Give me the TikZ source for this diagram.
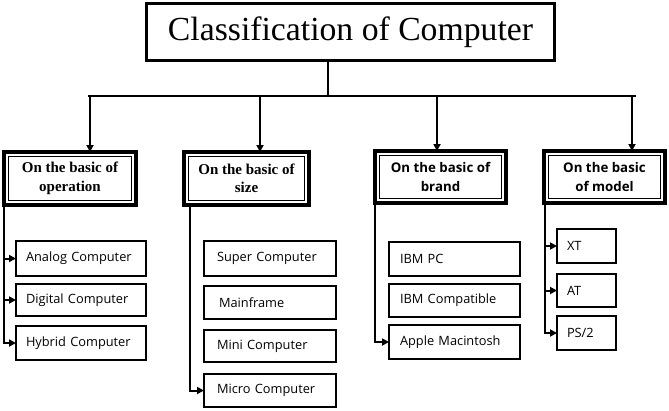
\documentclass[tikz,border=0pt]{standalone}
\usepackage{fontspec}
\usetikzlibrary{arrows.meta}
\newfontfamily\itemfont{Open Sans}
\newfontfamily\catserif{Liberation Serif}
\newfontfamily\catsans{Open Sans}
\newfontfamily\titlefont{Liberation Serif}
\begin{document}
\begin{tikzpicture}[x=1pt,y=-1pt,
  itembox/.style={draw, line width=2.8pt, outer sep=0pt, inner xsep=10pt, inner ysep=0pt, align=left,
    font=\itemfont\fontsize{12.8}{15}\selectfont},
  catbox/.style={draw, line width=4pt, outer sep=0pt, inner sep=0pt, align=center},
  catinner/.style={line width=0.8pt},
  conn/.style={line width=2pt},
  arr/.style={line width=2pt, -{Triangle[length=7pt,width=7pt]}},
]
\useasboundingbox (0,0) rectangle (669,410);

% title
\node[draw, line width=3pt, minimum width=408pt, minimum height=57pt, outer sep=0pt, inner sep=0pt]
  (title) at (350.5,32) {\resizebox{365pt}{!}{\titlefont Classification of Computer}};

% categories
\node[catbox, minimum width=132pt, minimum height=53pt, font=\catserif\bfseries\fontsize{15}{18.5}\selectfont]
  (c1) at (70,178.5) {On the basic of\\operation};
\node[catbox, minimum width=125pt, minimum height=53pt, font=\catserif\bfseries\fontsize{15}{18.5}\selectfont]
  (c2) at (246.5,178.5) {On the basic of\\size};
\node[catbox, minimum width=131pt, minimum height=52pt, font=\catsans\bfseries\fontsize{13.3}{19}\selectfont]
  (c3) at (440.5,177) {On the basic of\\brand};
\node[catbox, minimum width=121pt, minimum height=52pt, font=\catsans\bfseries\fontsize{13.3}{19}\selectfont]
  (c4) at (604.5,177) {On the basic\\of model};
\foreach \c in {c1,c2,c3,c4}{
  \draw[catinner] ([shift={(4.5,4.5)}]\c.north west) rectangle ([shift={(-4.5,-4.5)}]\c.south east);
}

% items column 1
\node[itembox, text width=110pt, minimum height=35pt] (ana) at (81,258.5) {Analog Computer};
\node[itembox, text width=110pt, minimum height=32pt] (dig) at (81,300) {Digital Computer};
\node[itembox, text width=110pt, minimum height=34pt] (hyb) at (81,343) {Hybrid Computer};
% column 2
\node[itembox, inner xsep=13pt, text width=106pt, minimum height=35pt] (sup) at (270,258.5) {Super Computer};
\node[itembox, inner xsep=13pt, text width=106pt, minimum height=33pt] (mai) at (270,302.5) {\hspace{2pt}Mainframe};
\node[itembox, inner xsep=13pt, text width=106pt, minimum height=32pt] (mini) at (270,346) {Mini Computer};
\node[itembox, inner xsep=13pt, text width=106pt, minimum height=33pt] (mic) at (270,390.5) {Micro Computer};
% column 3
\node[itembox, inner xsep=11pt, text width=109pt, minimum height=34pt] (ibm) at (454.5,259) {IBM PC};
\node[itembox, inner xsep=11pt, text width=109pt, minimum height=33pt] (com) at (454.5,300.5) {IBM Compatible};
\node[itembox, inner xsep=11pt, text width=109pt, minimum height=34pt] (app) at (454.5,342) {Apple Macintosh};
% column 4
\node[itembox, text width=39pt, minimum height=34pt] (xt) at (586.5,246) {XT};
\node[itembox, text width=39pt, minimum height=33pt] (nat) at (586.5,290.5) {AT};
\node[itembox, text width=39pt, minimum height=34pt] (ps) at (586.5,333) {PS/2};

% top connectors
\coordinate (hs) at (328,96);
\coordinate (h1) at (90,96);
\coordinate (h2) at (260,96);
\coordinate (h3) at (437,96);
\coordinate (h4) at (632,96);
\coordinate (hl) at (88,96);
\coordinate (hr) at (636,96);
\draw[conn] (title.south -| hs) -- (hs);
\draw[conn] (hl) -- (hr);
\draw[arr] (h1) -- (h1 |- c1.north);
\draw[arr] (h2) -- (h2 |- c2.north);
\draw[arr] (h3) -- (h3 |- c3.north);
\draw[arr] (h4) -- (h4 |- c4.north);

% column connectors
\draw[arr] (c1.south west) |- (hyb.west);
\draw[arr] (c1.west |- ana.west) -- (ana.west);
\draw[arr] (c1.west |- dig.west) -- (dig.west);

\coordinate (v2) at ([xshift=6pt]c2.south west);
\draw[arr] (v2) |- (mic.west);

\draw[arr] (c3.south west) |- (app.west);

\coordinate (v4) at ([xshift=1pt]c4.south west);
\draw[arr] (v4) |- (ps.west);
\draw[arr] (v4 |- xt.west) -- (xt.west);
\draw[arr] (v4 |- nat.west) -- (nat.west);
\end{tikzpicture}
\end{document}
